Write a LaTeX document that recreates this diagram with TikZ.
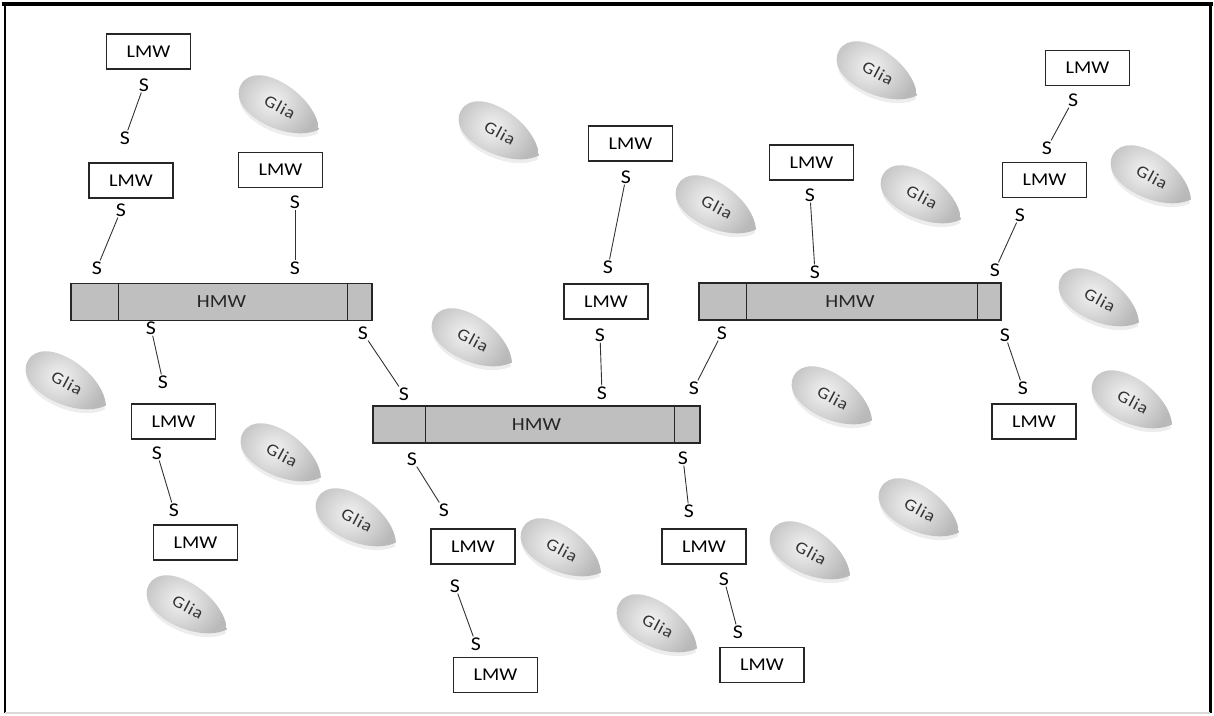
\documentclass[tikz,border=0pt]{standalone}
\usepackage{fontspec}
\setmainfont[FakeStretch=1.12]{Carlito}
\newfontfamily\gliafont[FakeStretch=1.1,LetterSpace=6]{Carlito}
\begin{document}
\begin{tikzpicture}[x=1pt,y=-1pt,
  lmw/.style={draw=black!85,line width=1.3pt,minimum width=84pt,minimum height=35pt,inner sep=0pt,fill=white,font=\fontsize{18}{21}\selectfont},
  hmw/.style={draw=black!85,line width=1.3pt,fill=gray!50,minimum height=37pt,inner sep=0pt,font=\fontsize{18.5}{21}\selectfont,text=black!85},
  sl/.style={font=\fontsize{19.5}{21}\selectfont,inner sep=1pt},
  bond/.style={line width=0.9pt,draw=black!80},
  divider/.style={line width=1.3pt,draw=black!85},
  glia/.pic={
    \fill[black,opacity=.07] (-42,4) .. controls (-42,-26) and (27,-24) .. (46,4) .. controls (27,32) and (-42,34) .. (-42,4);
    \shade[inner color=gray!10,outer color=gray!55] (-45,0) .. controls (-45,-31) and (25,-29) .. (45,0) .. controls (25,29) and (-45,31) .. (-45,0);
    \node[rotate=-28,font=\gliafont\fontsize{17}{19}\selectfont,text=black!80] (-t) at (0,0) {Glia};
  }
]
\useasboundingbox (0,0) rectangle (1214,715);
\fill[white] (0,0) rectangle (1214,715);
% frame
\draw[line width=4pt] (2,4) -- (1213,4);
\draw[line width=2pt] (5,4) -- (5,713);
\draw[line width=3pt] (1210.5,4) -- (1210.5,713);
\draw[gray!30,line width=2pt] (5,713) -- (1210,713);

% glia
\pic[rotate=-30] (g1) at (280,107) {glia};
\pic[rotate=-30] (g2) at (500,133) {glia};
\pic[rotate=-30] (g3) at (878,73) {glia};
\pic[rotate=-30] (g4) at (717,207) {glia};
\pic[rotate=-30] (g5) at (922,197) {glia};
\pic[rotate=-30] (g6) at (1152,177) {glia};
\pic[rotate=-30] (g7) at (1100,300) {glia};
\pic[rotate=-30] (g8) at (473,340) {glia};
\pic[rotate=-30] (g9) at (67,383) {glia};
\pic[rotate=-30] (g10) at (833,398) {glia};
\pic[rotate=-30] (g11) at (1133,402) {glia};
\pic[rotate=-30] (g12) at (282,455) {glia};
\pic[rotate=-30] (g13) at (920,510) {glia};
\pic[rotate=-30] (g14) at (357,520) {glia};
\pic[rotate=-30] (g15) at (562,550) {glia};
\pic[rotate=-30] (g16) at (811,553) {glia};
\pic[rotate=-30] (g17) at (188,607) {glia};
\pic[rotate=-30] (g18) at (658,626) {glia};

% HMW bars
\node[hmw,minimum width=301pt] (hA) at (221.5,302) {HMW};
\node[hmw,minimum width=327pt] (hB) at (536.5,424.5) {HMW};
\node[hmw,minimum width=302pt] (hC) at (850,301.5) {HMW};
\draw[divider] ([xshift=48pt]hA.north west) -- ([xshift=48pt]hA.south west);
\draw[divider] ([xshift=-25pt]hA.north east) -- ([xshift=-25pt]hA.south east);
\draw[divider] ([xshift=53pt]hB.north west) -- ([xshift=53pt]hB.south west);
\draw[divider] ([xshift=-26pt]hB.north east) -- ([xshift=-26pt]hB.south east);
\draw[divider] ([xshift=48pt]hC.north west) -- ([xshift=48pt]hC.south west);
\draw[divider] ([xshift=-24pt]hC.north east) -- ([xshift=-24pt]hC.south east);

% LMW boxes
\node[lmw] (l1) at (148.5,51.5) {LMW};
\node[lmw] (l2) at (131,180.5) {LMW};
\node[lmw] (l3) at (280.5,170) {LMW};
\node[lmw] (l4) at (173.5,421.5) {LMW};
\node[lmw] (l5) at (195.5,542.5) {LMW};
\node[lmw] (l6) at (473,546.5) {LMW};
\node[lmw] (l7) at (495.5,675) {LMW};
\node[lmw] (l8) at (630.5,143.5) {LMW};
\node[lmw] (l9) at (606,301.5) {LMW};
\node[lmw] (l10) at (811.5,162.5) {LMW};
\node[lmw] (l11) at (1087.5,68) {LMW};
\node[lmw] (l12) at (1044.5,180) {LMW};
\node[lmw] (l13) at (1034,421.5) {LMW};
\node[lmw] (l14) at (704,546.5) {LMW};
\node[lmw] (l15) at (762,665) {LMW};

% S labels
\foreach \n/\x/\y in {s1a/144/85, s1b/125/138, s2a/121/210, s2b/97/268,
  s3a/295/202, s3b/295/268, s4a/151/328, s4b/163/382, s5a/363/333, s5b/404/394,
  s6a/157/453, s6b/174/510, s7a/412/459, s7b/444/510, s8a/455/586, s8b/476/644,
  s9a/626/177, s9b/608/267, s10a/600/335, s10b/602/393, s11a/722/333, s11b/694/388,
  s12a/683/458, s12b/689/511, s13a/724/579, s13b/738/632, s14a/810/195, s14b/815/272,
  s15a/1073/100, s15b/1047/148, s16a/1020/215, s16b/995/270, s17a/1005/335, s17b/1023/388}
  {\node[sl] (\n) at (\x,\y) {S};}

% bonds
\foreach \i in {1,...,17}{\draw[bond] (s\i a) -- (s\i b);}
\end{tikzpicture}
\end{document}
